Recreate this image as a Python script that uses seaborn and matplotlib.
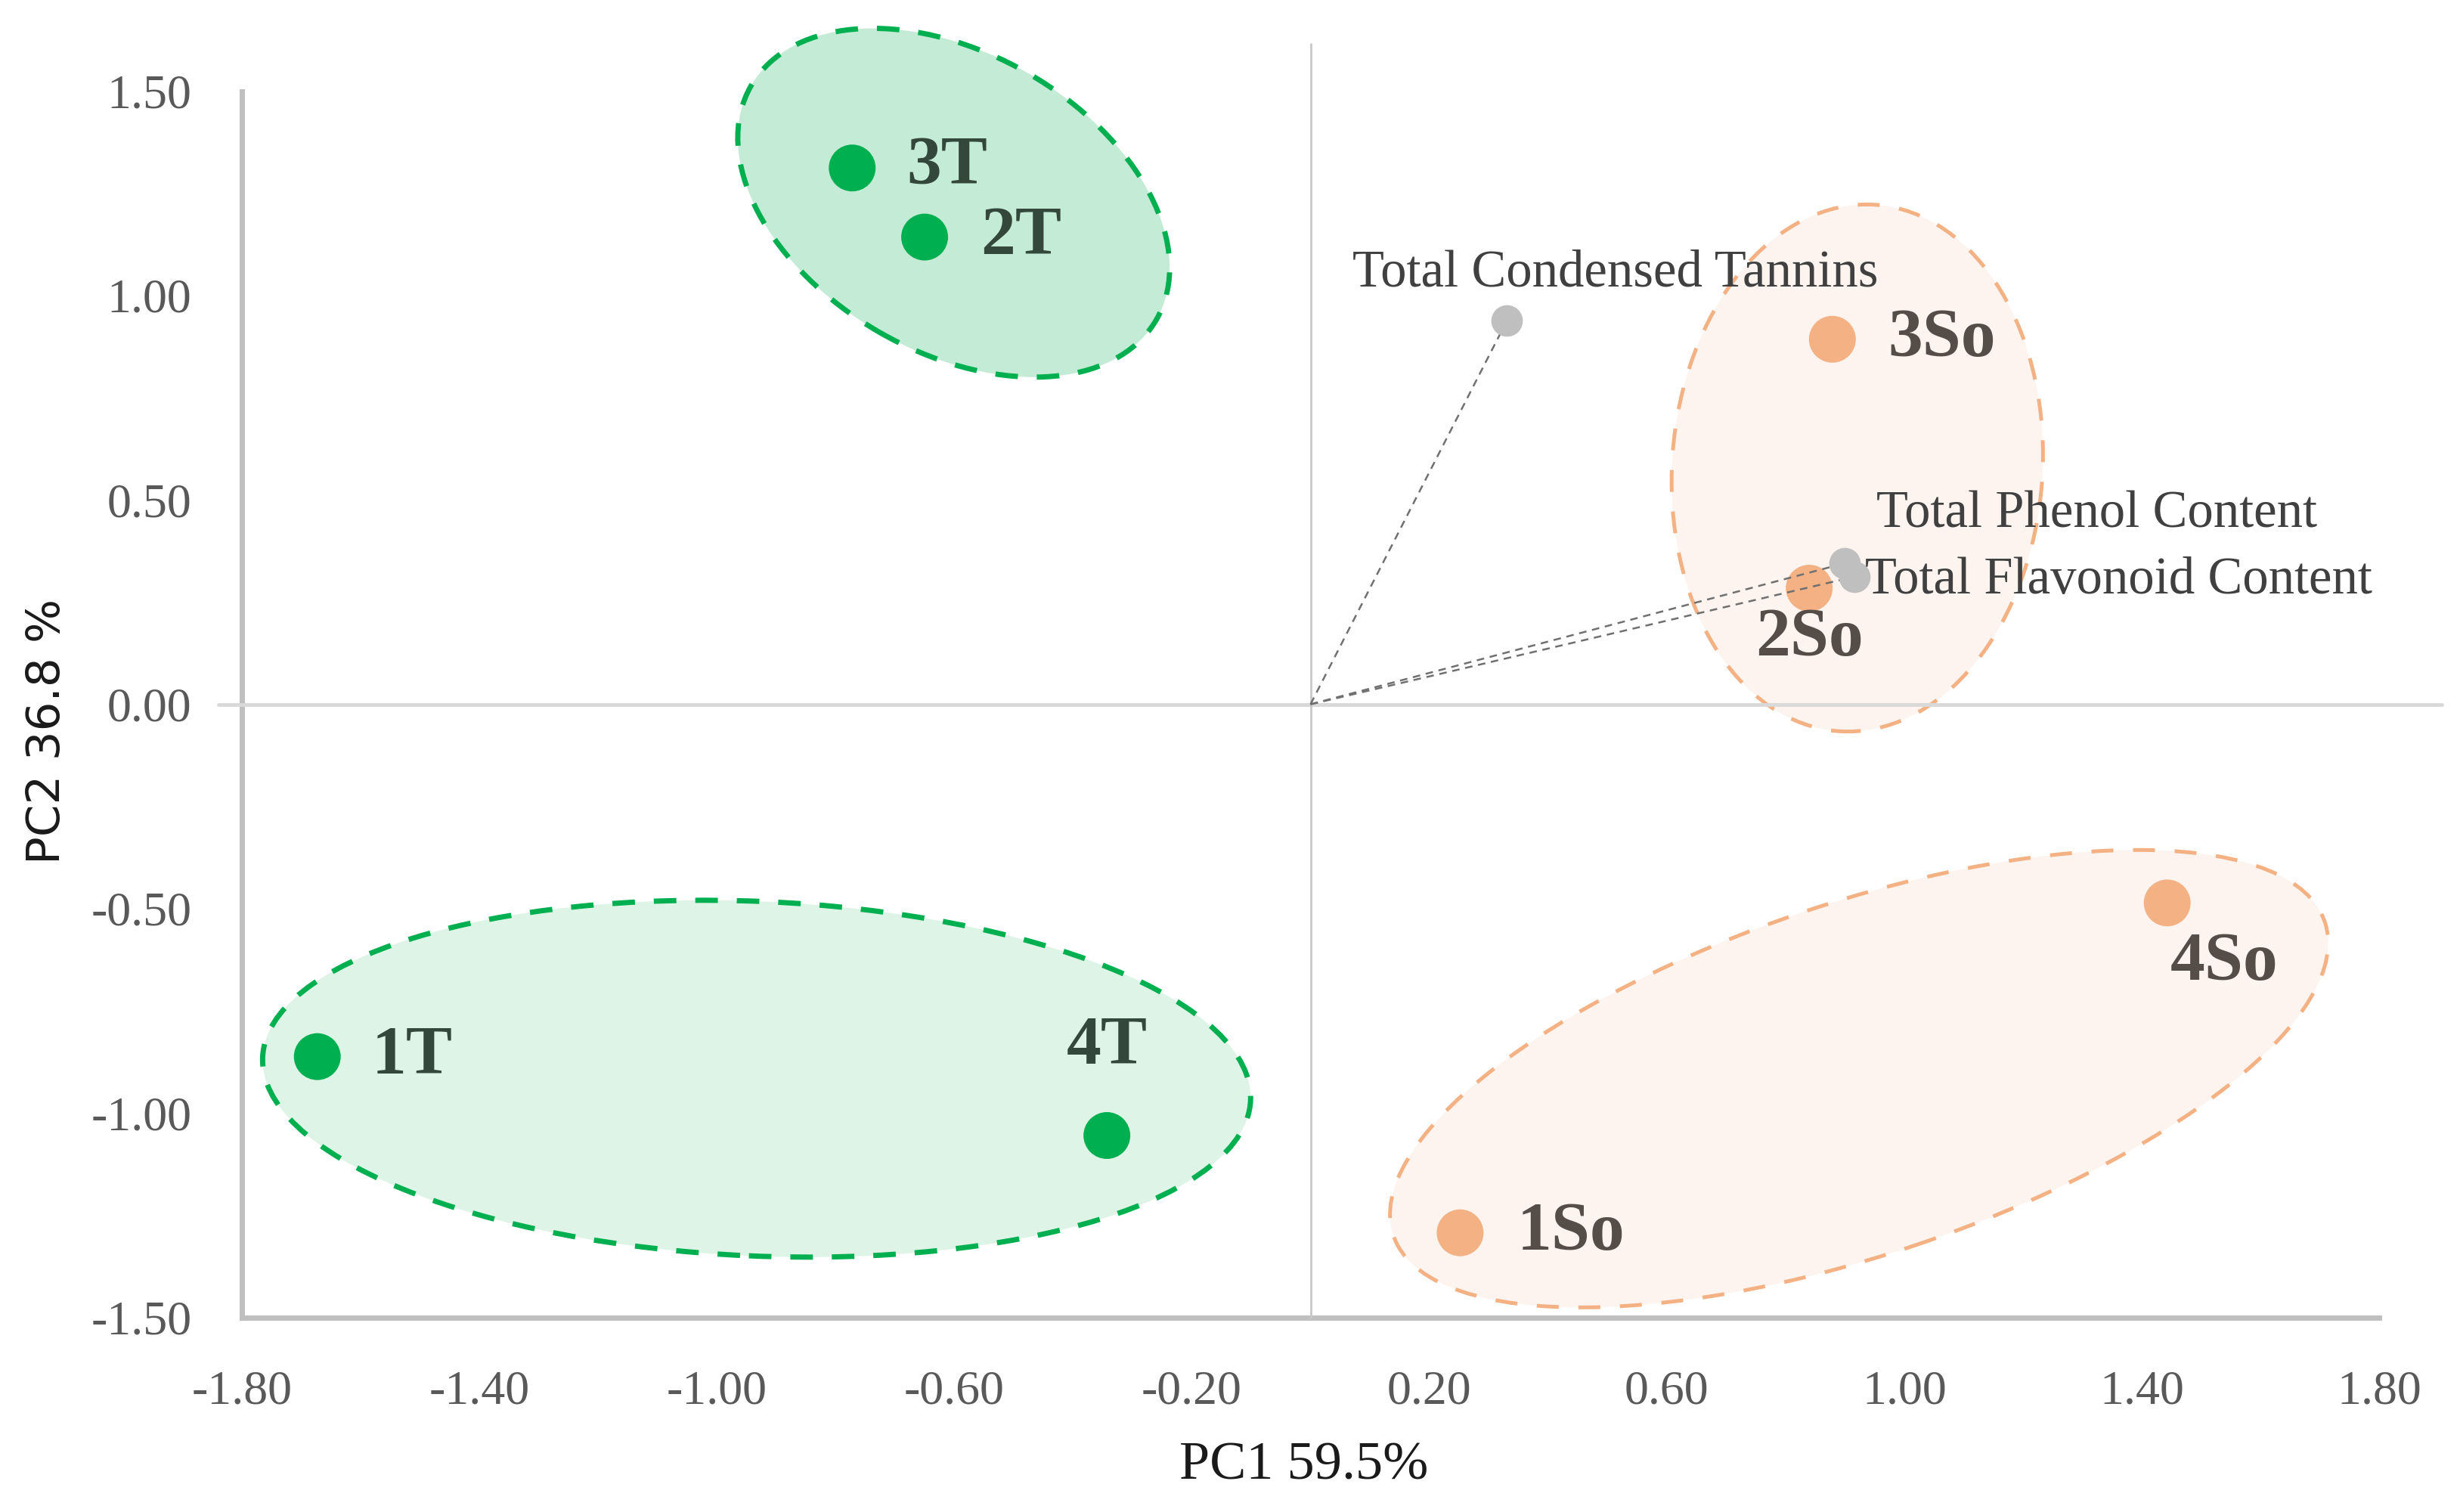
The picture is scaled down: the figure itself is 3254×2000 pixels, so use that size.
import numpy as np
import pandas as pd
import seaborn as sns
import matplotlib.pyplot as plt
from matplotlib.patches import Ellipse
from matplotlib import transforms

# sample scores (PC1, PC2)
samples = ["1T", "2T", "3T", "4T", "1So", "2So", "3So", "4So"]
groups = ["T", "T", "T", "T", "So", "So", "So", "So"]
pc1 = [-1.673, -0.650, -0.772, -0.343, 0.252, 0.840, 0.879, 1.443]
pc2 = [-0.862, 1.143, 1.312, -1.055, -1.293, 0.284, 0.893, -0.486]

# variable loadings
variables = ["Total Condensed Tannins", "Total Phenol Content", "Total Flavonoid Content"]
load_pc1 = [0.331, 0.900, 0.916]
load_pc2 = [0.939, 0.345, 0.312]

# group hulls drawn round the clusters (centre)
hull_group = ["T", "T", "So", "So"]
hull_pc1 = [-0.601, -0.933, 0.921, 0.924]
hull_pc2 = [1.227, -0.916, 0.578, -0.916]

x_ticks = [-1.80, -1.40, -1.00, -0.60, -0.20, 0.20, 0.60, 1.00, 1.40, 1.80]
y_ticks = [-1.50, -1.00, -0.50, 0.00, 0.50, 1.00, 1.50]

x_title = "PC1 59.5%"
y_title = "PC2 36.8 %"

# styling
dot_col = {"T": "#00b050", "So": "#f4b183"}
hull_fill = ["#c3ebd5", "#def4e6", "#fdf4ef", "#fdf4ef"]
hull_edge = {"T": "#00b050", "So": "#f4b183"}
hull_lw = {"T": 5, "So": 3.6}
hull_dash = {"T": (0, (4.3, 3.6)), "So": (0, (5.8, 5.2))}
hull_size = [(6.19, 3.95, -30), (13.08, 4.69, -2.5), (4.90, 6.98, -4), (13.0, 4.65, 18.6)]  # inches, inches, deg
label_col = {"T": "#33473a", "So": "#554d48"}
# label offsets in points and alignment
label_pos = {
    "1T": (52, 0, "left"), "2T": (53, 0, "left"), "3T": (52, 1, "left"),
    "4T": (0, 84, "center"), "1So": (54, 0, "left"), "2So": (0, -48, "center"),
    "3So": (53, 0, "left"), "4So": (3, -57, "left"),
}
var_pos = [(-147, 45), (30, 46), (10, -4)]

sns.set_theme(style="white")
plt.rcParams["font.family"] = ["Liberation Serif", "DejaVu Serif"]

fig = plt.figure(figsize=(32.55, 20), dpi=100)
ax = fig.add_axes([0.0983, 0.1287, 0.8999, 0.8705])
ax.set_xlim(-1.8, 1.93)
ax.set_ylim(-1.5, 1.72)

# hulls
for i in range(len(hull_pc1)):
    w, h, ang = hull_size[i]
    tr = fig.dpi_scale_trans + transforms.ScaledTranslation(hull_pc1[i], hull_pc2[i], ax.transData)
    g = hull_group[i]
    ax.add_patch(Ellipse((0, 0), w, h, angle=ang, transform=tr, facecolor=hull_fill[i],
                         edgecolor="none", zorder=1))
    ax.add_patch(Ellipse((0, 0), w, h, angle=ang, transform=tr, facecolor="none",
                         edgecolor=hull_edge[g], lw=hull_lw[g],
                         linestyle=hull_dash[g], zorder=2))

# zero lines
ax.plot([-1.84, 1.905], [0, 0], color="#d9d9d9", lw=3.5, clip_on=False, zorder=3)
ax.plot([0, 0], [-1.5, 1.615], color="#c8c8c8", lw=2, clip_on=False, zorder=3)

# scores
df = pd.DataFrame({"sample": samples, "group": groups, "PC1": pc1, "PC2": pc2})
sns.scatterplot(data=df, x="PC1", y="PC2", hue="group", palette=dot_col, s=1990,
                linewidth=0, legend=False, ax=ax, zorder=5)

# loadings
for i in range(len(variables)):
    ax.plot([0, load_pc1[i]], [0, load_pc2[i]], color="#707070", lw=1.8,
            linestyle=(0, (4, 3)), zorder=6)
sns.scatterplot(x=load_pc1, y=load_pc2, color="#bfbfbf", s=900, linewidth=0,
                ax=ax, zorder=7)

for i, v in enumerate(variables):
    dx, dy = var_pos[i]
    ax.annotate(v, (load_pc1[i], load_pc2[i]), xytext=(dx, dy), textcoords="offset points",
                ha="left", va="center", fontsize=49.5, color="#404040", zorder=8)

for i, s in enumerate(samples):
    dx, dy, ha = label_pos[s]
    ax.annotate(s, (pc1[i], pc2[i]), xytext=(dx, dy), textcoords="offset points",
                ha=ha, va="center", fontsize=66, fontweight="bold",
                color=label_col[groups[i]], zorder=8)

# axes
sns.despine(ax=ax)
for side in ["left", "bottom"]:
    ax.spines[side].set_color("#bfbfbf")
    ax.spines[side].set_linewidth(5)
ax.spines["left"].set_bounds(-1.5, 1.5)
ax.spines["bottom"].set_bounds(-1.8, 1.8)
ax.set_xticks(x_ticks, labels=[f"{v:.2f}" for v in x_ticks])
ax.set_yticks(y_ticks, labels=[f"{v:.2f}" for v in y_ticks])
ax.tick_params(axis="both", length=0, labelsize=46, labelcolor="#595959")
ax.tick_params(axis="x", pad=50)
ax.tick_params(axis="y", pad=48)
ax.grid(False)

ax.set_xlabel(x_title, fontsize=52, color="#1a1a1a")
ax.xaxis.set_label_coords(1725 / 3255, 1 - 1939 / 2000, transform=fig.transFigure)
ax.xaxis.label.set_va("center")
ax.set_ylabel(y_title, fontsize=44, color="#1a1a1a", family=["DejaVu Sans"])
ax.yaxis.set_label_coords(63 / 3255, 1 - 967 / 2000, transform=fig.transFigure)
ax.yaxis.label.set_va("center")

fig.savefig("out.png", dpi=100, facecolor="white")
